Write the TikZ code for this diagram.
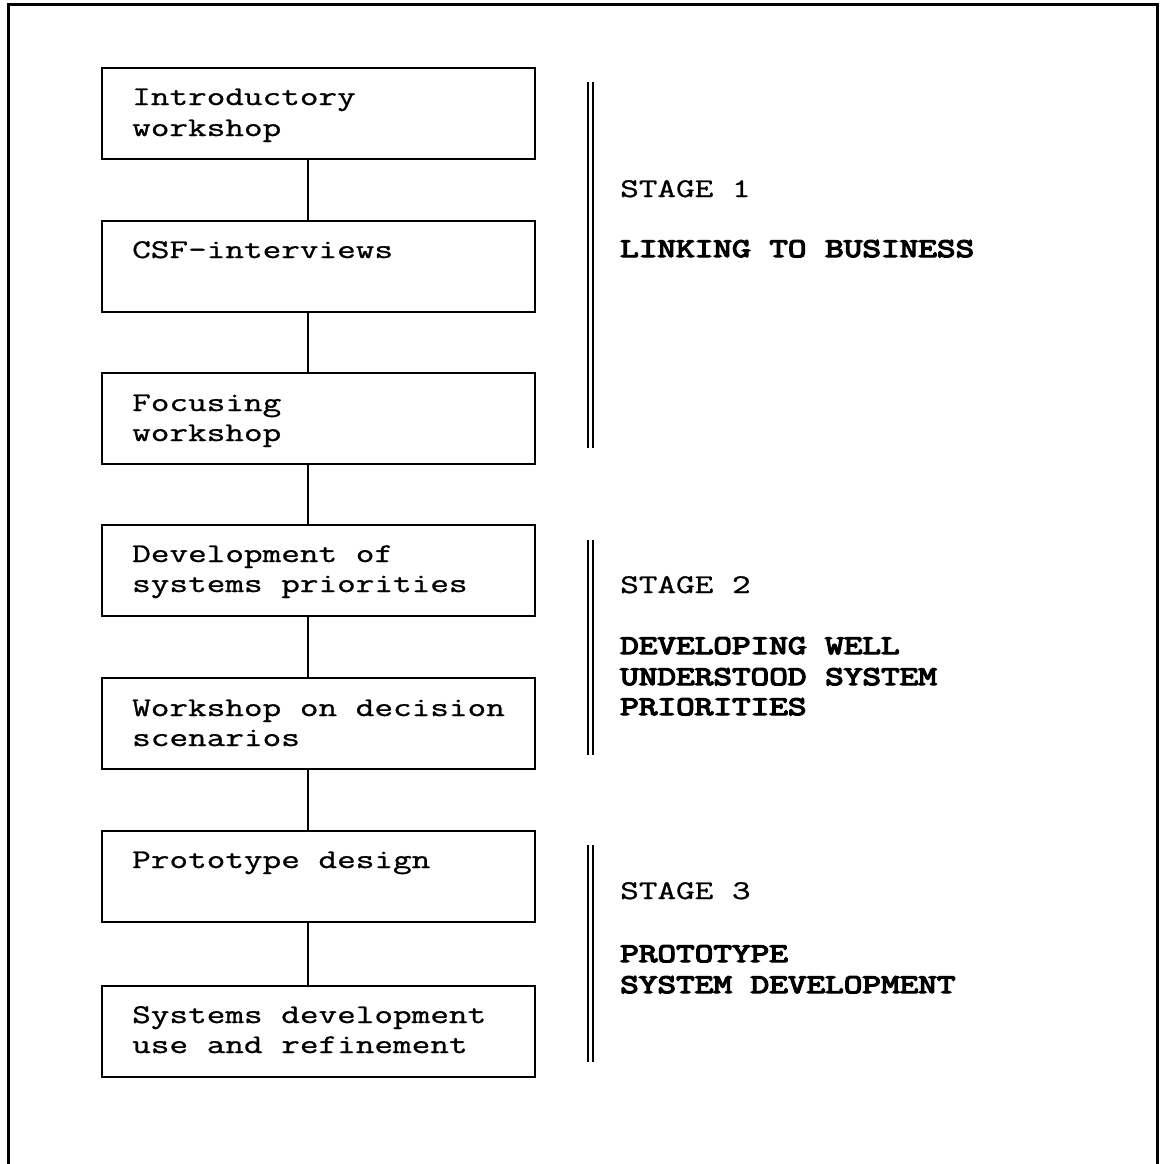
\documentclass[tikz,border=0pt]{standalone}
\usepackage{fontspec}
\newfontfamily\typew[FakeStretch=1.34,FakeBold=1.0]{Latin Modern Mono}
\newfontfamily\typewbold[FakeStretch=1.34,FakeBold=5]{Latin Modern Mono}
\begin{document}
\begin{tikzpicture}[x=1pt,y=-1pt,
  stepbox/.style={draw, line width=2.4pt, rectangle, minimum width=433pt,
    minimum height=91pt, inner sep=0pt, anchor=north west},
  boxtext/.style={anchor=base west, inner sep=0pt, font=\typew\fontsize{27}{30}\selectfont},
  stagetext/.style={anchor=base west, inner sep=0pt, font=\typew\fontsize{27}{30}\selectfont},
  stagehead/.style={anchor=base west, inner sep=0pt, font=\typewbold\fontsize{27}{30}\selectfont},
  link/.style={line width=2.6pt},
  stagebar/.style={line width=2pt},
  frameline/.style={line width=3pt}
]
\useasboundingbox (0,0) rectangle (1163,1164);

% outer frame (open at the bottom)
\draw[frameline] (8,1164) -- (8,5) -- (1157,5) -- (1157,1164);

% process boxes
\node[stepbox] (b1) at (101,67)  {};
\node[stepbox] (b2) at (101,220) {};
\node[stepbox] (b3) at (101,372) {};
\node[stepbox] (b4) at (101,524) {};
\node[stepbox] (b5) at (101,677) {};
\node[stepbox] (b6) at (101,830) {};
\node[stepbox] (b7) at (101,985) {};

% box texts
\node[boxtext] (t1a) at (132,105) {Introductory};
\node[boxtext] (t1b) at (132,136) {workshop};
\node[boxtext] (t2a) at (132,258) {CSF-interviews};
\node[boxtext] (t3a) at (132,411) {Focusing};
\node[boxtext] (t3b) at (132,441) {workshop};
\node[boxtext] (t4a) at (132,562) {Development of};
\node[boxtext] (t4b) at (132,592) {systems priorities};
\node[boxtext] (t5a) at (132,716) {Workshop on decision};
\node[boxtext] (t5b) at (132,746) {scenarios};
\node[boxtext] (t6a) at (132,868) {Prototype design};
\node[boxtext] (t7a) at (132,1023) {Systems development};
\node[boxtext] (t7b) at (132,1053) {use and refinement};

% vertical connectors between consecutive boxes
\coordinate (spine) at (308,0);
\foreach \a/\b in {b1/b2,b2/b3,b3/b4,b4/b5,b5/b6,b6/b7}
  \draw[link] (\a.south -| spine) -- (\b.north -| spine);

% stage bars (double rules)
\foreach \top/\bot in {82/448, 540/755, 845/1062}{
  \draw[stagebar] (588,\top) -- (588,\bot);
  \draw[stagebar] (593,\top) -- (593,\bot);
}

% stage labels
\node[stagetext] (s1) at (620,197) {STAGE 1};
\node[stagehead] (s1h) at (620,257) {LINKING TO BUSINESS};

\node[stagetext] (s2) at (620,593) {STAGE 2};
\node[stagehead] (s2a) at (620,654) {DEVELOPING WELL};
\node[stagehead] (s2b) at (620,685) {UNDERSTOOD SYSTEM};
\node[stagehead] (s2c) at (620,715) {PRIORITIES};

\node[stagetext] (s3) at (620,899) {STAGE 3};
\node[stagehead] (s3a) at (620,962) {PROTOTYPE};
\node[stagehead] (s3b) at (620,993) {SYSTEM DEVELOPMENT};
\end{tikzpicture}
\end{document}
